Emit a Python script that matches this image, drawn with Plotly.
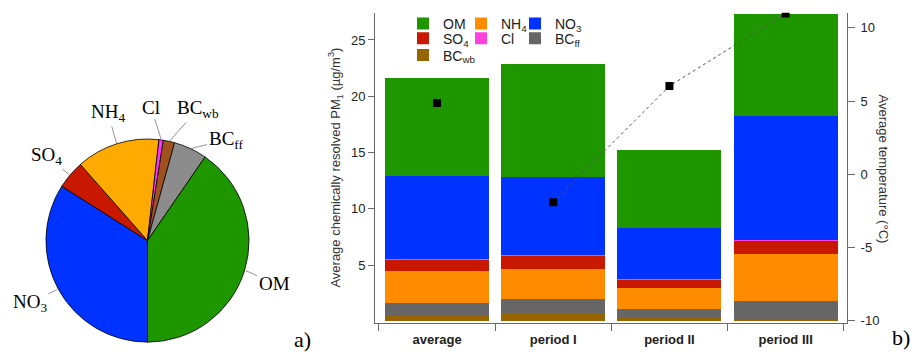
import math
import plotly.graph_objects as go

W, H = 912, 357

# ---- data -------------------------------------------------------------
categories = ["average", "period I", "period II", "period III"]

om = [8.76, 10.07, 6.97, 9.08]
no3 = [7.34, 6.90, 4.55, 11.02]
cl = [0.05, 0.05, 0.04, 0.05]
so4 = [1.02, 1.22, 0.71, 1.22]
nh4 = [2.83, 2.67, 1.89, 4.15]
bc_ff = [1.20, 1.25, 0.76, 1.63]
bc_wb = [0.44, 0.70, 0.35, 0.18]

temperature = [4.88, -1.91, 6.03, 10.99]   # °C

pie_labels = ["NO<sub>3</sub>", "SO<sub>4</sub>", "NH<sub>4</sub>", "Cl",
              "BC<sub>wb</sub>", "BC<sub>ff</sub>", "OM"]
pie_share = [34.0, 4.5, 13.3, 0.7, 1.8, 5.3, 40.4]   # % of PM1

# ---- styling ----------------------------------------------------------
SANS = "Liberation Sans, Arial, sans-serif"
SERIF = "Liberation Serif, Times New Roman, serif"
AXIS = "#6a6a6a"
TXT = "#222222"

# (name, values, colour, legend grid cell (col, row)) listed bottom -> top of the stack
bar_series = [
    ("BC<sub>wb</sub>", bc_wb, "#966400", (0, 2)),
    ("BC<sub>ff</sub>", bc_ff, "#666666", (2, 1)),
    ("NH<sub>4</sub>", nh4, "#ff8c00", (1, 0)),
    ("SO<sub>4</sub>", so4, "#c81900", (0, 1)),
    ("Cl", cl, "#ff40dc", (1, 1)),
    ("NO<sub>3</sub>", no3, "#0033ff", (2, 0)),
    ("OM", om, "#1e9600", (0, 0)),
]
pie_colors = ["#0033ff", "#c81900", "#ffaa00", "#ff33ff", "#a0521e", "#8c8c8c", "#1e9600"]

legend_col_x = [403, 461, 515]   # px, left edge of each legend column
legend_row_y = [8, 23, 40]       # px, top edge of each legend row


def px(x):
    return x / W


def py(y):
    return 1 - y / H


fig = go.Figure()
legends = {}

for i, (name, vals, color, (col, row)) in enumerate(bar_series):
    leg_id = "legend" if i == 0 else f"legend{i + 1}"
    fig.add_trace(go.Bar(
        x=categories, y=vals, name=name, marker=dict(color=color, line=dict(width=0)),
        legend=leg_id, xaxis="x", yaxis="y",
    ))
    legends[leg_id] = dict(
        x=px(legend_col_x[col]), y=py(legend_row_y[row]),
        orientation="v", xanchor="left", yanchor="top", bgcolor="rgba(0,0,0,0)",
        font=dict(family=SANS, size=14, color=TXT),
        itemclick=False, itemdoubleclick=False,
    )

# temperature: periods joined by a dotted line, average as a lone point
fig.add_trace(go.Scatter(
    x=categories[1:], y=temperature[1:], mode="lines", yaxis="y2",
    line=dict(color="#555555", width=1, dash="dot"), showlegend=False,
))
fig.add_trace(go.Scatter(
    x=categories, y=temperature, mode="markers", yaxis="y2",
    marker=dict(symbol="square", size=8, color="black"), showlegend=False,
))

# ---- pie (panel a) ----------------------------------------------------
cx, cy, r = 147.5, 244.0, 103.0
fig.add_trace(go.Pie(
    labels=pie_labels, values=pie_share, sort=False, direction="clockwise",
    rotation=180, textinfo="none", hoverinfo="label+percent",
    marker=dict(colors=pie_colors, line=dict(color="black", width=0.8)),
    domain=dict(x=[px(cx - r), px(cx + r)], y=[py(cy + r), py(cy - r)]),
    showlegend=False,
))

label_text_pos = {
    "NO<sub>3</sub>": (30, 307),
    "SO<sub>4</sub>": (46, 158),
    "NH<sub>4</sub>": (108, 115),
    "Cl": (151, 109),
    "BC<sub>wb</sub>": (198, 111),
    "BC<sub>ff</sub>": (226, 142),
    "OM": (274, 287),
}

annotations = []
start = 180.0
for lab, share in zip(pie_labels, pie_share):
    span = share / 100.0 * 360.0
    mid = math.radians(start + span / 2)
    start += span
    ex = cx + r * math.sin(mid)
    ey = cy - r * math.cos(mid)
    tx, ty = label_text_pos[lab]
    annotations.append(dict(
        x=px(ex), y=py(ey), xref="paper", yref="paper",
        ax=tx - ex, ay=ty - ey, axref="pixel", ayref="pixel",
        text=lab, showarrow=True, arrowhead=0, arrowwidth=0.8,
        arrowcolor="#777777", standoff=0,
        font=dict(family=SERIF, size=19, color="black"),
    ))


def note(x, y, text, font, angle=0):
    return dict(x=px(x), y=py(y), xref="paper", yref="paper", text=text,
                showarrow=False, xanchor="center", yanchor="middle",
                textangle=angle, font=font)


annotations += [
    note(302, 344, "a)", dict(family=SERIF, size=22, color="black")),
    note(901, 342, "b)", dict(family=SERIF, size=22, color="black")),
    note(335, 170, "Average chemically resolved PM<sub>1</sub> (µg/m<sup>3</sup>)",
         dict(family=SANS, size=13, color="#333333"), -90),
    note(883, 171, "Average temperature (°C)",
         dict(family=SANS, size=13, color="#333333"), 90),
]

fig.update_layout(
    width=W, height=H, margin=dict(l=0, r=0, t=0, b=0),
    paper_bgcolor="white", plot_bgcolor="white",
    barmode="stack", bargap=0.105,
    font=dict(family=SANS, size=13, color=TXT),
    xaxis=dict(
        domain=[px(375), px(847)], range=[-0.534, 3.528], type="category",
        tickson="boundaries", ticks="outside", ticklen=7, tickcolor=AXIS,
        ticklabelstandoff=4,
        showline=True, linecolor=AXIS, linewidth=1, showgrid=False,
        tickfont=dict(family=SANS, size=13, color=TXT, weight="bold"),
    ),
    yaxis=dict(
        domain=[py(328), py(13)], range=[-0.175, 27.41],
        tickvals=[5, 10, 15, 20, 25], ticks="outside", ticklen=6, tickcolor=AXIS,
        showline=True, linecolor=AXIS, linewidth=1, showgrid=False, zeroline=False,
        tickfont=dict(family=SANS, size=13, color=TXT),
    ),
    yaxis2=dict(
        overlaying="y", side="right", anchor="x", range=[-10.18, 11.03],
        tickvals=[-10, -5, 0, 5, 10], ticktext=["-10", "-5", "0", "5", "10"],
        ticks="outside", ticklen=7, tickcolor=AXIS, ticklabelstandoff=3,
        showline=True, linecolor=AXIS, linewidth=1, showgrid=False, zeroline=False,
        tickfont=dict(family=SANS, size=13, color=TXT),
    ),
    annotations=annotations,
    **legends,
)

fig.write_html("out.html")
